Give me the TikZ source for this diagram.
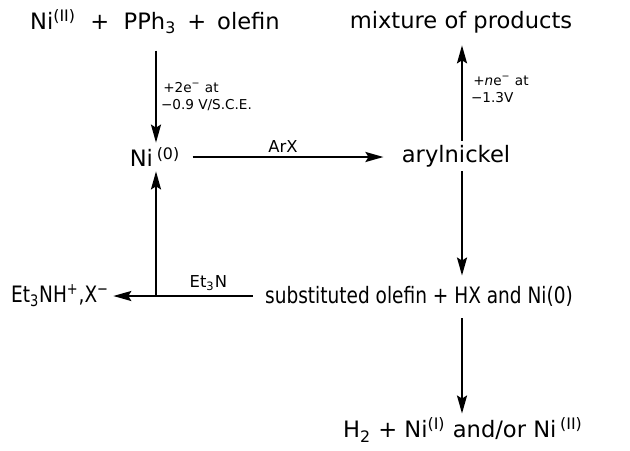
\documentclass[tikz,border=0pt]{standalone}
\usepackage{fontspec}
\setmainfont{DejaVu Sans}
\usetikzlibrary{arrows.meta, positioning}
\tikzstyle{arrow} = [line width=1pt, -{Stealth[length=9pt, width=5pt, inset=1.5pt]}]
\tikzstyle{chem} = [font=\fontsize{11.3}{13}\selectfont, inner sep=2pt]
\tikzstyle{cond} = [font=\fontsize{6.8}{8.5}\selectfont, align=left, inner sep=2pt]
\tikzstyle{reag} = [font=\fontsize{8.2}{9}\selectfont, inner sep=2pt]
\newcommand{\narrow}[1]{\scalebox{0.82}[1]{#1}}

\begin{document}
\begin{tikzpicture}[x=0.5pt, y=-0.5pt]
    \useasboundingbox (0,0) rectangle (630,450);

    % Species
    \node[chem] (start)  at (155,22)  {Ni\textsuperscript{(II)} \ + \ PPh\textsubscript{3} \,+\, olefin};
    \node[chem] (mix)    at (461,22)  {mixture of products};
    \node[chem] (nizero) at (155,157) {Ni\,\textsuperscript{(0)}};
    \node[chem] (aryl)   at (456,156) {arylnickel};
    \node[chem] (subst)  at (419,296) {\narrow{substituted olefin + HX and Ni(0)}};
    \node[chem] (salt)   at (60,296)  {\narrow{Et\textsubscript{3}NH\textsuperscript{+},X\textsuperscript{−}}};
    \node[chem] (final)  at (463,430) {H\textsubscript{2} + Ni\textsuperscript{(I)} and/or Ni\,\textsuperscript{(II)}};

    % Helper points
    \coordinate (col)  at (462,0);
    \coordinate (junc) at (subst.west -| 156,0);

    % Reduction of Ni(II)
    \draw[arrow] (start.south -| junc) ++(0,12) -- (junc |- nizero.north)
      node[cond, midway, right] {\,+2e\textsuperscript{−} at\\−0.9 V/S.C.E.};
    % Further reduction
    \draw[arrow, shorten >=4pt] (col |- aryl.north) -- (col |- mix.south)
      node[cond, midway, right, xshift=2pt] {\,+\textit{n}e\textsuperscript{−} at\\−1.3V};
    % Oxidative addition
    \draw[arrow, shorten >=7pt] (nizero.east) ++(8,0) -- (aryl.west |- nizero.east)
      node[reag, midway, above, xshift=-6pt] {ArX};
    \draw[arrow, shorten >=3pt] (col |- aryl.south) -- (col |- subst.north);
    \draw[arrow, shorten <=4pt] (col |- subst.south) -- (col |- final.north);
    % Base regeneration
    \draw[arrow, shorten <=4pt] (subst.west) -- node[reag, above] {Et\textsubscript{3}N} (junc) -- (salt.east);
    \draw[arrow] (junc) -- (junc |- nizero.south);
\end{tikzpicture}
\end{document}
